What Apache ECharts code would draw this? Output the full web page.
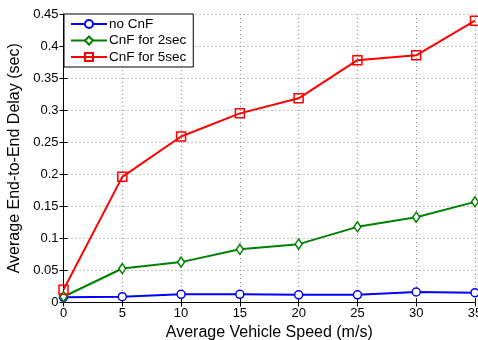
<!DOCTYPE html>
<html>
<head>
<meta charset="utf-8">
<script src="https://cdn.jsdelivr.net/npm/echarts@6/dist/echarts.min.js"></script>
<style>
  html, body { margin: 0; padding: 0; background: #fff; }
  #chart { width: 478px; height: 340px; }
</style>
</head>
<body>
<div id="chart"></div>
<script>
// Vehicle speed (m/s) on the x axis
const speeds = [0, 5, 10, 15, 20, 25, 30, 35];

// Average end-to-end delay (sec) per scheme
const noCnF = [0.008, 0.009, 0.0128, 0.0128, 0.012, 0.012, 0.0164, 0.0153];
const cnf2sec = [0.009, 0.053, 0.063, 0.083, 0.091, 0.118, 0.133, 0.157];
const cnf5sec = [0.020, 0.196, 0.259, 0.295, 0.3185, 0.378, 0.3856, 0.4396];

const seriesNames = ['no CnF', 'CnF for 2sec', 'CnF for 5sec'];

const FONT = 'Liberation Sans, Arial, Helvetica, sans-serif';

function pairs(ys) {
  return speeds.map((x, i) => [x, ys[i]]);
}

const gridLine = { show: true, lineStyle: { color: '#8a8a8a', type: [1, 3], width: 1 } };

const chart = echarts.init(document.getElementById('chart'), null, { renderer: 'canvas' });

chart.setOption({
  animation: false,
  backgroundColor: '#fff',
  textStyle: { fontFamily: FONT },
  grid: {
    left: 63.5, right: 3, top: 14, bottom: 37.5,
    containLabel: false,
    outerBoundsMode: 'none'
  },
  legend: {
    orient: 'vertical',
    left: 64,
    top: 14,
    padding: [3, 7, 3, 6],
    itemWidth: 36,
    itemHeight: 10,
    itemGap: 2.5,
    backgroundColor: '#fff',
    borderColor: '#000',
    borderWidth: 1,
    textStyle: { fontFamily: FONT, fontSize: 13.5, color: '#000', padding: [0, 0, 0, -3] },
    data: seriesNames
  },
  xAxis: [{
    type: 'value',
    min: 0, max: 35, interval: 5,
    name: 'Average Vehicle Speed (m/s)',
    nameLocation: 'middle',
    nameGap: 19,
    nameTextStyle: { fontFamily: FONT, fontSize: 16, color: '#000' },
    axisLine: { show: true, lineStyle: { color: '#000', width: 1 } },
    axisTick: { show: true, inside: true, length: 4, lineStyle: { color: '#000' } },
    axisLabel: { fontFamily: FONT, fontSize: 13, color: '#000', margin: 4 },
    splitLine: gridLine
  }, {
    type: 'value', position: 'top',
    min: 0, max: 35, interval: 5,
    axisLine: { show: true, lineStyle: { color: '#000', width: 1 } },
    axisTick: { show: true, inside: true, length: 4, lineStyle: { color: '#000' } },
    axisLabel: { show: false },
    splitLine: { show: false }
  }],
  yAxis: [{
    type: 'value',
    min: 0, max: 0.45, interval: 0.05,
    name: 'Average End-to-End Delay (sec)',
    nameLocation: 'middle',
    nameGap: 39,
    nameTextStyle: { fontFamily: FONT, fontSize: 16, color: '#000' },
    axisLine: { show: true, lineStyle: { color: '#000', width: 1 } },
    axisTick: { show: true, inside: true, length: 4, lineStyle: { color: '#000' } },
    axisLabel: {
      fontFamily: FONT, fontSize: 13, color: '#000', margin: 5,
      formatter: v => String(parseFloat(v.toFixed(2)))
    },
    splitLine: gridLine
  }, {
    type: 'value', position: 'right',
    min: 0, max: 0.45, interval: 0.05,
    axisLine: { show: true, lineStyle: { color: '#000', width: 1 } },
    axisTick: { show: true, inside: true, length: 4, lineStyle: { color: '#000' } },
    axisLabel: { show: false },
    splitLine: { show: false }
  }],
  series: [{
    name: seriesNames[0],
    type: 'line',
    data: pairs(noCnF),
    symbol: 'circle',
    symbolSize: 8,
    showAllSymbol: true,
    lineStyle: { color: '#0000ff', width: 2 },
    itemStyle: { color: '#fff', borderColor: '#0000ff', borderWidth: 1.5 },
    color: '#0000ff',
    z: 3
  }, {
    name: seriesNames[1],
    type: 'line',
    data: pairs(cnf2sec),
    symbol: 'diamond',
    symbolSize: [7, 10],
    showAllSymbol: true,
    lineStyle: { color: '#008000', width: 2 },
    itemStyle: { color: '#fff', borderColor: '#008000', borderWidth: 1.5 },
    color: '#008000',
    z: 4
  }, {
    name: seriesNames[2],
    type: 'line',
    data: pairs(cnf5sec),
    symbol: 'rect',
    symbolSize: 9,
    showAllSymbol: true,
    lineStyle: { color: '#ff0000', width: 2 },
    itemStyle: { color: 'rgba(255,255,255,0)', borderColor: '#ff0000', borderWidth: 1.5 },
    color: '#ff0000',
    z: 5
  }]
});
</script>
</body>
</html>
